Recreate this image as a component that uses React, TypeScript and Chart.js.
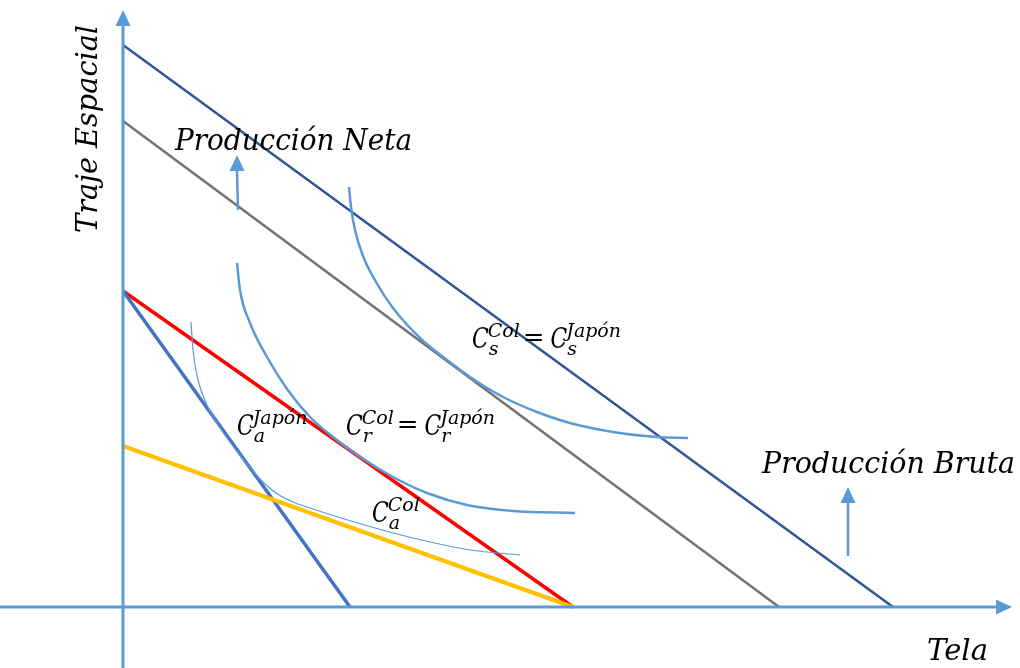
import { useEffect, useRef } from "react";
import { Chart, registerables } from "chart.js";

Chart.register(...registerables);

type P = { x: number; y: number };

// Coordinates: x = Tela, y = Traje Espacial (origin at the axes crossing)
const grossProductionLine: P[] = [{ x: 0, y: 562 }, { x: 770, y: 0 }];
const netProductionLine: P[] = [{ x: 0, y: 486 }, { x: 656, y: 0 }];
const tradePriceLine: P[] = [{ x: 0, y: 316 }, { x: 450, y: 0 }];
const japanFrontier: P[] = [{ x: 0, y: 316 }, { x: 227, y: 0 }];
const colombiaFrontier: P[] = [{ x: 0, y: 161 }, { x: 450, y: 0 }];

const curveS: P[] = [
  { x: 226, y: 420 }, { x: 228, y: 400 }, { x: 232, y: 377 }, { x: 240, y: 351 },
  { x: 253, y: 325 }, { x: 270, y: 299 }, { x: 297, y: 269 }, { x: 324, y: 247 },
  { x: 350, y: 228 }, { x: 380, y: 210 }, { x: 414, y: 195 }, { x: 447, y: 184 },
  { x: 490, y: 175 }, { x: 534, y: 170 }, { x: 565, y: 169 },
];
const curveR: P[] = [
  { x: 114, y: 344 }, { x: 117, y: 317 }, { x: 127, y: 284 }, { x: 144, y: 250 },
  { x: 164, y: 218 }, { x: 187, y: 190 }, { x: 210, y: 170 }, { x: 237, y: 150 },
  { x: 270, y: 130 }, { x: 304, y: 114 }, { x: 344, y: 102 }, { x: 390, y: 96 },
  { x: 452, y: 94 },
];
const curveA: P[] = [
  { x: 68, y: 285 }, { x: 70, y: 257 }, { x: 75, y: 227 }, { x: 84, y: 202 },
  { x: 96, y: 181 }, { x: 110, y: 161 }, { x: 124, y: 143 }, { x: 138, y: 127 },
  { x: 153, y: 114 }, { x: 170, y: 105 }, { x: 190, y: 98 }, { x: 215, y: 90 },
  { x: 245, y: 81 }, { x: 274, y: 73 }, { x: 307, y: 65 }, { x: 347, y: 57 },
  { x: 397, y: 52 },
];

const yAxisLine: P[] = [{ x: 0, y: -61 }, { x: 0, y: 583 }];
const xAxisLine: P[] = [{ x: -123, y: 0 }, { x: 875, y: 0 }];
const netArrowShaft: P[] = [{ x: 115, y: 397 }, { x: 114, y: 437 }];
const grossArrowShaft: P[] = [{ x: 725, y: 51 }, { x: 725, y: 106 }];

// Arrow heads: tip, direction
const arrowHeads = [
  { x: 0, y: 597, dir: "up" },
  { x: 889, y: 0, dir: "right" },
  { x: 114, y: 452, dir: "up" },
  { x: 725, y: 120, dir: "up" },
];

const plainLabels = [
  { text: "Producción Neta", x: 52, y: 457, width: 237, rot: false },
  { text: "Producción Bruta", x: 639, y: 134, width: 253, rot: false },
  { text: "Tela", x: 804, y: -53, width: 61, rot: false },
  { text: "Traje Espacial", x: -26, y: 374, width: 208, rot: true },
];

const mathLabels = [
  { x: 349, y: 259, sub: "s", sup: "Col", sub2: "s", sup2: "Japón" },
  { x: 223, y: 172, sub: "r", sup: "Col", sub2: "r", sup2: "Japón" },
  { x: 114, y: 172, sub: "a", sup: "Japón", sub2: "", sup2: "" },
  { x: 249, y: 85, sub: "a", sup: "Col", sub2: "", sup2: "" },
];

const AXIS = "#5B9BD5";
const SERIF = "'DejaVu Serif', serif";

const overlay = {
  id: "overlay",
  afterDatasetsDraw(chart: any) {
    const { ctx } = chart;
    const xs = chart.scales.x;
    const ys = chart.scales.y;
    const X = (v: number) => xs.getPixelForValue(v);
    const Y = (v: number) => ys.getPixelForValue(v);

    ctx.save();
    ctx.fillStyle = AXIS;
    for (const a of arrowHeads) {
      const px = X(a.x);
      const py = Y(a.y);
      ctx.beginPath();
      if (a.dir === "up") {
        ctx.moveTo(px, py);
        ctx.lineTo(px - 7.5, py + 16);
        ctx.lineTo(px + 7.5, py + 16);
      } else {
        ctx.moveTo(px, py);
        ctx.lineTo(px - 16, py - 7.5);
        ctx.lineTo(px - 16, py + 7.5);
      }
      ctx.closePath();
      ctx.fill();
    }

    ctx.fillStyle = "#000";
    ctx.textBaseline = "alphabetic";
    ctx.textAlign = "left";
    for (const l of plainLabels) {
      ctx.save();
      ctx.font = `italic 30px ${SERIF}`;
      const w = ctx.measureText(l.text).width;
      const sx = l.width / w;
      ctx.translate(X(l.x), Y(l.y));
      if (l.rot) ctx.rotate(-Math.PI / 2);
      ctx.scale(sx, 1);
      ctx.fillText(l.text, 0, 0);
      ctx.restore();
    }

    const drawC = (x: number, base: number, sub: string, sup: string) => {
      ctx.save();
      ctx.font = `italic 28px ${SERIF}`;
      ctx.translate(x, base);
      ctx.scale(0.78, 1);
      ctx.fillText("C", 0, 0);
      const cw = ctx.measureText("C").width * 0.78;
      ctx.restore();
      ctx.font = `italic 19px ${SERIF}`;
      const sx = x + cw - 1;
      ctx.fillText(sup, sx, base - 11);
      ctx.fillText(sub, sx + 1, base + 7);
      const w = Math.max(ctx.measureText(sup).width, ctx.measureText(sub).width + 1);
      return sx + w;
    };

    for (const m of mathLabels) {
      const bx = X(m.x);
      const by = Y(m.y);
      const end = drawC(bx, by, m.sub, m.sup);
      if (m.sup2) {
        ctx.font = `26px ${SERIF}`;
        ctx.fillText("=", end + 3, by - 2);
        const ew = ctx.measureText("=").width;
        drawC(end + 3 + ew + 6, by, m.sub2, m.sup2);
      }
    }
    ctx.restore();
  },
};

export default function App() {
  const ref = useRef<HTMLCanvasElement | null>(null);

  useEffect(() => {
    if (!ref.current) return;
    const line = (data: P[], color: string, width: number, smooth = false) => ({
      type: "line" as const,
      data,
      borderColor: color,
      backgroundColor: color,
      borderWidth: width,
      pointRadius: 0,
      cubicInterpolationMode: smooth ? ("monotone" as const) : ("default" as const),
      tension: smooth ? 0.4 : 0,
      fill: false,
      borderCapStyle: "butt" as const,
    });
    const chart = new Chart(ref.current, {
      type: "line",
      data: {
        datasets: [
          line(yAxisLine, AXIS, 3),
          line(xAxisLine, AXIS, 3),
          line(netArrowShaft, AXIS, 2.5),
          line(grossArrowShaft, AXIS, 2.5),
          line(curveS, AXIS, 2.5, true),
          line(curveR, AXIS, 2.5, true),
          line(curveA, AXIS, 1.2, true),
          line(grossProductionLine, "#2F5597", 2.5),
          line(netProductionLine, "#767171", 2.5),
          line(colombiaFrontier, "#FFC000", 4),
          line(japanFrontier, "#4472C4", 3.5),
          line(tradePriceLine, "#FF0000", 3.5),
        ] as any,
      },
      options: {
        animation: false,
        responsive: false,
        parsing: false as any,
        layout: { padding: 0 },
        plugins: { legend: { display: false }, tooltip: { enabled: false } },
        scales: {
          x: { type: "linear", min: -123, max: 897, display: false },
          y: { type: "linear", min: -61, max: 607, display: false },
        },
      },
      plugins: [overlay],
    });
    return () => chart.destroy();
  }, []);

  return (
    <div style={{ position: "absolute", left: 0, top: 0, width: 1020, height: 668, background: "#fff" }}>
      <canvas ref={ref} width={1020} height={668} style={{ display: "block" }} />
    </div>
  );
}
